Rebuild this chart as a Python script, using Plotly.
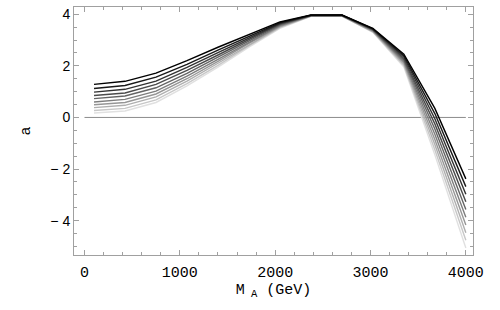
import plotly.graph_objects as go

# Data
mass_gev = [100, 425, 750, 1075, 1400, 1725, 2050, 2375, 2700, 3025, 3350, 3675, 4000]

a_line0 = [1.28, 1.40, 1.72, 2.20, 2.72, 3.22, 3.70, 3.97, 3.97, 3.45, 2.45, 0.35, -2.38]
a_line1 = [1.12, 1.24, 1.56, 2.06, 2.61, 3.15, 3.67, 3.96, 3.97, 3.43, 2.39, 0.15, -2.68]
a_line2 = [0.98, 1.09, 1.41, 1.94, 2.51, 3.09, 3.64, 3.96, 3.96, 3.42, 2.34, -0.05, -2.98]
a_line3 = [0.85, 0.95, 1.28, 1.82, 2.42, 3.03, 3.62, 3.95, 3.96, 3.40, 2.28, -0.25, -3.27]
a_line4 = [0.73, 0.83, 1.15, 1.71, 2.34, 2.97, 3.59, 3.95, 3.95, 3.38, 2.23, -0.45, -3.57]
a_line5 = [0.60, 0.70, 1.02, 1.60, 2.25, 2.92, 3.56, 3.94, 3.95, 3.37, 2.17, -0.65, -3.87]
a_line6 = [0.49, 0.58, 0.91, 1.50, 2.17, 2.87, 3.53, 3.94, 3.94, 3.35, 2.12, -0.85, -4.17]
a_line7 = [0.38, 0.47, 0.80, 1.41, 2.10, 2.82, 3.51, 3.93, 3.94, 3.33, 2.06, -1.05, -4.47]
a_line8 = [0.27, 0.35, 0.68, 1.31, 2.02, 2.77, 3.48, 3.93, 3.93, 3.32, 2.01, -1.25, -4.76]
a_line9 = [0.17, 0.25, 0.58, 1.22, 1.95, 2.72, 3.45, 3.92, 3.93, 3.30, 1.95, -1.45, -5.06]

zero_x = [0, 4000]
zero_y = [0, 0]

x_ticks = [0, 1000, 2000, 3000, 4000]
x_tick_labels = ["0", "1000", "2000", "3000", "4000"]
y_ticks = [-4, -2, 0, 2, 4]
y_tick_labels = ["\u2212 4", "\u2212 2", "0", "2", "4"]

lines = [a_line0, a_line1, a_line2, a_line3, a_line4,
         a_line5, a_line6, a_line7, a_line8, a_line9]

fig = go.Figure()

fig.add_trace(go.Scatter(x=zero_x, y=zero_y, mode="lines",
                         line=dict(color="#8c8c8c", width=1),
                         showlegend=False, hoverinfo="skip"))

n = len(lines)
# draw lightest first so the black line is on top
for i in reversed(range(n)):
    g = int(round(0.88 * 255 * i / (n - 1)))
    col = f"rgb({g},{g},{g})"
    fig.add_trace(go.Scatter(x=mass_gev, y=lines[i], mode="lines",
                             line=dict(color=col, width=1.4),
                             showlegend=False))

frame_col = "#a0a0a0"

fig.update_layout(
    width=500, height=310,
    margin=dict(l=74, r=27, t=7, b=55),
    paper_bgcolor="white", plot_bgcolor="white",
    showlegend=False,
)

fig.update_xaxes(
    automargin=False,
    range=[-110, 4075],
    tickmode="array", tickvals=x_ticks, ticktext=x_tick_labels,
    ticks="inside", ticklen=5, tickcolor=frame_col, tickwidth=1,
    ticklabelstandoff=3,
    minor=dict(ticks="inside", dtick=200, ticklen=3, tickcolor=frame_col, showgrid=False),
    showline=True, linecolor=frame_col, linewidth=1, mirror="allticks",
    showgrid=False, zeroline=False,
    tickfont=dict(family="Liberation Mono", size=15, color="black"),
    title=dict(text="M<sub> A</sub> (GeV)",
               font=dict(family="Liberation Mono", size=15, color="black"),
               standoff=2),
)

fig.update_yaxes(
    automargin=False,
    range=[-5.33, 4.28],
    tickmode="array", tickvals=y_ticks, ticktext=y_tick_labels,
    ticks="inside", ticklen=5, tickcolor=frame_col, tickwidth=1,
    minor=dict(ticks="inside", dtick=0.5, ticklen=3, tickcolor=frame_col, showgrid=False),
    showline=True, linecolor=frame_col, linewidth=1, mirror="allticks",
    showgrid=False, zeroline=False,
    tickfont=dict(family="Liberation Sans", size=14, color="black"),
    title=dict(text="a",
               font=dict(family="Liberation Mono", size=15, color="black"),
               standoff=16),
)

fig.write_html("out.html",
               config={"displayModeBar": False},
               post_script="document.body.style.margin='0';document.body.style.padding='0';")
